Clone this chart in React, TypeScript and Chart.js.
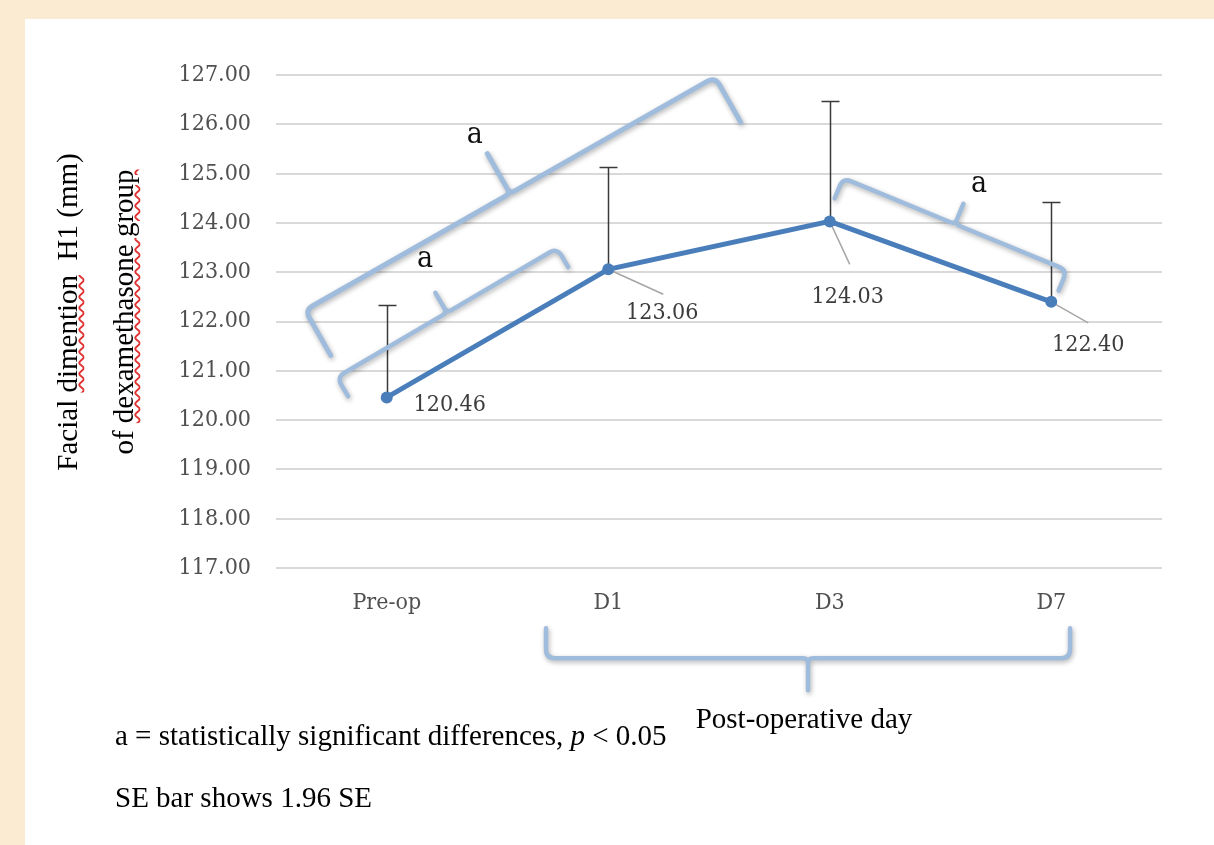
import React, { useEffect, useRef } from 'react';
import { Chart, registerables } from 'chart.js';

Chart.register(...registerables);

// ---------- data ----------
const categories = ['Pre-op', 'D1', 'D3', 'D7'];
const means = [120.46, 123.06, 124.03, 122.4];
const errorTops = [122.33, 125.14, 126.47, 124.43];
const yMin = 117;
const yMax = 127;
const yStep = 1;

// significance brackets: start / end in data space (category index, value)
const bracketStarts: [number, number][] = [
  [-0.369, 122.23],
  [-0.225, 120.87],
  [2.06, 124.91],
  [3.085, 115.17],
];
const bracketEnds: [number, number][] = [
  [1.482, 126.96],
  [0.769, 123.49],
  [3.071, 123.04],
  [0.719, 115.17],
];
const sigMarks = ['a', 'a', 'a'];
const sigMarkPos: [number, number][] = [
  [0.398, 125.62],
  [0.173, 123.1],
  [2.674, 124.63],
];

// ---------- styles ----------
const BLUE = '#4A7EBB';
const BRACKET = '#A0BCDD';
const TICK_FONT = '"DejaVu Serif Condensed", "DejaVu Serif", serif';
const TIMES = '"Liberation Serif", "Times New Roman", serif';
const bracketHook = [52, 22, 22, 30];
const bracketCusp = [46, 23, 22, 32];
const bracketWidth = [5, 4.5, 4.5, 4.5];
// label offsets (px from point) and leader end offsets
const labelOffset: [number, number][] = [
  [63, 8],
  [54, 44],
  [18, 76],
  [37, 43],
];
const leaderOffset: ([number, number] | null)[] = [null, [55, 25], [20, 43], [37, 21]];

function drawBracket(
  ctx: CanvasRenderingContext2D,
  A: [number, number],
  B: [number, number],
  hook: number,
  cusp: number
) {
  const dx = B[0] - A[0];
  const dy = B[1] - A[1];
  const L = Math.hypot(dx, dy);
  const ux = dx / L;
  const uy = dy / L;
  const nx = -uy;
  const ny = ux;
  const r = Math.min(9, hook * 0.4);
  const s = 5;
  const Mx = (A[0] + B[0]) / 2;
  const My = (A[1] + B[1]) / 2;
  ctx.beginPath();
  ctx.moveTo(A[0] + nx * hook, A[1] + ny * hook);
  ctx.lineTo(A[0] + nx * r, A[1] + ny * r);
  ctx.quadraticCurveTo(A[0], A[1], A[0] + ux * r, A[1] + uy * r);
  ctx.lineTo(Mx - ux * s, My - uy * s);
  ctx.quadraticCurveTo(Mx, My, Mx - nx * s, My - ny * s);
  ctx.lineTo(Mx - nx * cusp, My - ny * cusp);
  ctx.lineTo(Mx - nx * s, My - ny * s);
  ctx.quadraticCurveTo(Mx, My, Mx + ux * s, My + uy * s);
  ctx.lineTo(B[0] - ux * r, B[1] - uy * r);
  ctx.quadraticCurveTo(B[0], B[1], B[0] + nx * r, B[1] + ny * r);
  ctx.lineTo(B[0] + nx * hook, B[1] + ny * hook);
  ctx.stroke();
}

const overlayPlugin = {
  id: 'overlay',
  beforeDatasetsDraw(chart: any) {
    const { ctx, scales } = chart;
    const x = scales.x;
    const y = scales.y;
    ctx.save();
    // error bars
    ctx.strokeStyle = '#3a3a3a';
    ctx.lineWidth = 1.5;
    means.forEach((m, i) => {
      const px = Math.round(x.getPixelForValue(i)) + 0.5;
      const y0 = y.getPixelForValue(m);
      const y1 = Math.round(y.getPixelForValue(errorTops[i])) + 0.5;
      ctx.beginPath();
      ctx.moveTo(px, y0);
      ctx.lineTo(px, y1);
      ctx.moveTo(px - 9, y1);
      ctx.lineTo(px + 9, y1);
      ctx.stroke();
    });
    // leader lines
    ctx.strokeStyle = '#A6A6A6';
    ctx.lineWidth = 1.5;
    means.forEach((m, i) => {
      const lo = leaderOffset[i];
      if (!lo) return;
      const px = x.getPixelForValue(i);
      const py = y.getPixelForValue(m);
      ctx.beginPath();
      ctx.moveTo(px, py);
      ctx.lineTo(px + lo[0], py + lo[1]);
      ctx.stroke();
    });
    ctx.restore();
  },
  afterDatasetsDraw(chart: any) {
    const { ctx, scales } = chart;
    const x = scales.x;
    const y = scales.y;
    ctx.save();
    // data labels
    ctx.fillStyle = '#3C3C3C';
    ctx.font = `23px ${TICK_FONT}`;
    ctx.textAlign = 'center';
    ctx.textBaseline = 'middle';
    means.forEach((m, i) => {
      const px = x.getPixelForValue(i);
      const py = y.getPixelForValue(m);
      ctx.fillText(m.toFixed(2), px + labelOffset[i][0], py + labelOffset[i][1]);
    });
    // brackets
    ctx.strokeStyle = BRACKET;
    ctx.lineCap = 'round';
    ctx.lineJoin = 'round';
    ctx.shadowColor = 'rgba(0,0,0,0.3)';
    ctx.shadowBlur = 5;
    ctx.shadowOffsetX = 1;
    ctx.shadowOffsetY = 2;
    bracketStarts.forEach((s, i) => {
      const e = bracketEnds[i];
      ctx.lineWidth = bracketWidth[i];
      drawBracket(
        ctx,
        [x.getPixelForValue(s[0]), y.getPixelForValue(s[1])],
        [x.getPixelForValue(e[0]), y.getPixelForValue(e[1])],
        bracketHook[i],
        bracketCusp[i]
      );
    });
    ctx.shadowColor = 'transparent';
    ctx.shadowBlur = 0;
    ctx.shadowOffsetX = 0;
    ctx.shadowOffsetY = 0;
    // significance marks
    ctx.fillStyle = '#111';
    ctx.font = `30px ${TICK_FONT}`;
    ctx.textAlign = 'center';
    ctx.textBaseline = 'alphabetic';
    sigMarks.forEach((t, i) => {
      ctx.fillText(t, x.getPixelForValue(sigMarkPos[i][0]), y.getPixelForValue(sigMarkPos[i][1]));
    });
    ctx.restore();
  },
};

export default function App() {
  const canvasRef = useRef<HTMLCanvasElement | null>(null);

  useEffect(() => {
    if (!canvasRef.current) return;
    const chart = new Chart(canvasRef.current, {
      type: 'line',
      data: {
        labels: categories,
        datasets: [
          {
            data: means,
            borderColor: BLUE,
            backgroundColor: BLUE,
            borderWidth: 5,
            pointRadius: 6,
            pointBorderWidth: 0,
            pointBackgroundColor: BLUE,
            tension: 0,
          },
        ],
      },
      options: {
        animation: false,
        responsive: false,
        devicePixelRatio: 1,
        layout: { padding: { left: 0, top: 56, right: 52, bottom: 217 } },
        plugins: {
          legend: { display: false },
          tooltip: { enabled: false },
        },
        scales: {
          x: {
            type: 'category',
            offset: true,
            grid: { display: false, drawTicks: false },
            border: { display: false },
            ticks: {
              color: '#505050',
              font: { family: TICK_FONT, size: 23 },
              padding: 21,
            },
            afterFit: (scale: any) => {
              scale.height = 60;
            },
          },
          y: {
            min: yMin,
            max: yMax,
            border: { display: false },
            grid: { color: '#D9D9D9', lineWidth: 2, drawTicks: false },
            ticks: {
              stepSize: yStep,
              color: '#505050',
              font: { family: TICK_FONT, size: 23 },
              padding: 25,
              callback: (v: any) => Number(v).toFixed(2),
            },
            afterFit: (scale: any) => {
              scale.width = 251;
            },
          },
        },
      },
      plugins: [overlayPlugin],
    });
    return () => chart.destroy();
  }, []);

  const serif: React.CSSProperties = {
    position: 'absolute',
    fontFamily: TIMES,
    fontSize: 29,
    lineHeight: 1,
    color: '#000',
    whiteSpace: 'pre',
  };
  const squiggle: React.CSSProperties = {
    textDecorationLine: 'underline',
    textDecorationStyle: 'wavy',
    textDecorationColor: '#E03030',
    textDecorationThickness: '1.5px',
  };

  return (
    <div
      style={{
        position: 'absolute',
        left: 0,
        top: 0,
        width: 1214,
        height: 845,
        background: '#FAEBD2',
        overflow: 'hidden',
      }}
    >
      <div
        style={{
          position: 'absolute',
          left: 25,
          top: 19,
          width: 1189,
          height: 826,
          background: '#FFFFFF',
        }}
      >
        <canvas ref={canvasRef} width={1189} height={826} style={{ display: 'block' }} />
      </div>
      <div
        style={{
          ...serif,
          left: 67,
          top: 312,
          transform: 'translate(-50%, -50%) rotate(-90deg)',
        }}
      >
        Facial <span style={squiggle}>dimention</span>  H1 (mm)
      </div>
      <div
        style={{
          ...serif,
          left: 123,
          top: 312,
          transform: 'translate(-50%, -50%) rotate(-90deg)',
        }}
      >
        of <span style={squiggle}>dexamethasone group</span>
      </div>
      <div style={{ ...serif, left: 804, top: 704, transform: 'translateX(-50%)' }}>
        Post-operative day
      </div>
      <div style={{ ...serif, left: 115, top: 721 }}>
        a = statistically significant differences, <i>p</i> &lt; 0.05
      </div>
      <div style={{ ...serif, left: 115, top: 783 }}>SE bar shows 1.96 SE</div>
    </div>
  );
}
